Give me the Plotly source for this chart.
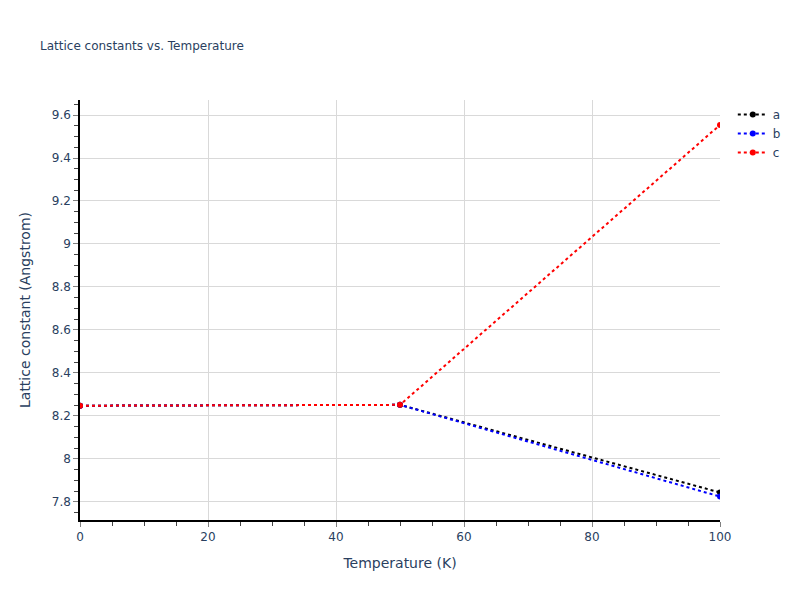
import plotly.graph_objects as go

temperature = [0, 50, 100]
lattice_a = [8.247, 8.251, 7.843]
lattice_b = [8.247, 8.251, 7.824]
lattice_c = [8.247, 8.251, 9.554]

series = [('a', lattice_a, 'black'), ('b', lattice_b, 'blue'), ('c', lattice_c, 'red')]

fig = go.Figure()
for name, vals, col in series:
    fig.add_trace(go.Scatter(x=temperature, y=vals, name=name, mode='lines+markers',
                             line=dict(color=col, dash='dot', width=2),
                             marker=dict(color=col, size=6)))

axis_style = dict(showline=True, linecolor='black', linewidth=1.5, ticks='outside',
                  tickcolor='gray', ticklen=5, gridcolor='#d9d9d9', zeroline=False,
                  minor=dict(ticks='outside', ticklen=4, tickcolor='#444', showgrid=False))

fig.update_layout(
    template='plotly_white',
    width=800, height=600,
    margin=dict(l=72, r=88, t=92, b=88),
    font=dict(family='DejaVu Sans', size=12),
    title=dict(text='Lattice constants vs. Temperature', x=0.04, y=0.944, font=dict(size=12)),
    xaxis=dict(title=dict(text='Temperature (K)', font=dict(size=14)), range=[0, 100], dtick=20, **axis_style),
    yaxis=dict(title=dict(text='Lattice constant (Angstrom)', font=dict(size=14), standoff=18),
               range=[7.715, 9.67], dtick=0.2, **axis_style),
    showlegend=True,
)
fig.update_xaxes(minor_dtick=5)
fig.update_yaxes(minor_dtick=0.05)

fig.write_html('out.html')
